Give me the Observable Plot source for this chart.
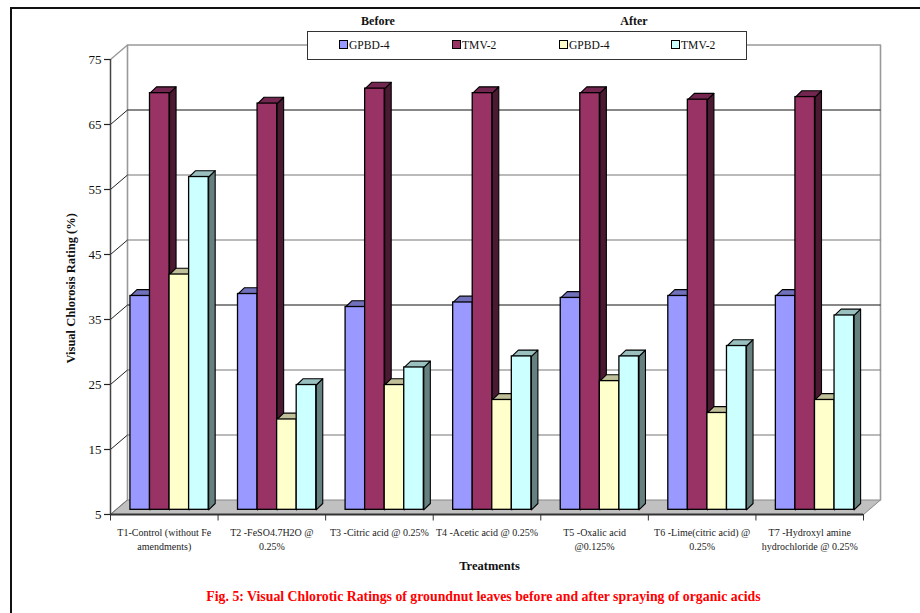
<!DOCTYPE html>
<html>
<head>
<meta charset="utf-8">
<script src="https://cdn.jsdelivr.net/npm/d3@7"></script>
<script src="https://cdn.jsdelivr.net/npm/@observablehq/plot@0.6"></script>
<style>
  html, body { margin: 0; background: #fff; }
  #page { position: relative; width: 920px; height: 613px; overflow: hidden; font-family: "Liberation Serif", serif; color: #111; }
  #page svg { position: absolute; left: 0; top: 0; }
  #frame { position: absolute; left: 10px; top: 6.5px; width: 920px; height: 620px; border-left: 2px solid #111; border-top: 2px solid #111; }
  .head { position: absolute; top: 14px; font-size: 12px; font-weight: bold; transform: translateX(-50%); }
  #legend { position: absolute; left: 307px; top: 31px; width: 438px; height: 27px; background: #fff; border: 1px solid #333; border-bottom-width: 1.5px; border-right-width: 1.5px; }
  .key { position: absolute; top: 7px; font-size: 11.6px; line-height: 14px; white-space: nowrap; }
  .key i { display: inline-block; width: 7px; height: 7px; border: 1px solid #000; margin-right: 1px; vertical-align: 0; }
  #caption { position: absolute; left: 0; top: 589px; width: 967px; text-align: center; font-size: 13.8px; font-weight: bold; color: #f00; }
</style>
</head>
<body>
<div id="page">
  <div id="frame"></div>
</div>
<script>
// Treatments along the horizontal axis
const treatments = [
  "T1-Control (without Fe\namendments)",
  "T2 -FeSO4.7H2O @\n0.25%",
  "T3 -Citric acid @ 0.25%",
  "T4 -Acetic acid @ 0.25%",
  "T5 -Oxalic acid\n@0.125%",
  "T6 -Lime(citric acid) @\n0.25%",
  "T7 -Hydroxyl amine\nhydrochloride @ 0.25%"
];

// Chlorosis ratings, one list per cultivar and sampling time
const gpbdBefore = [37.9, 38.2, 36.2, 36.9, 37.6, 37.9, 37.9];
const tmvBefore  = [69.1, 67.5, 69.8, 69.1, 69.1, 68.1, 68.5];
const gpbdAfter  = [41.2, 18.9, 24.2, 21.9, 24.8, 19.9, 21.9];
const tmvAfter   = [56.2, 24.2, 26.9, 28.6, 28.6, 30.2, 34.9];

const seriesNames = ["GPBD-4", "TMV-2", "GPBD-4", "TMV-2"];
const seriesValues = [gpbdBefore, tmvBefore, gpbdAfter, tmvAfter];
const frontColors = ["#9999ff", "#993366", "#ffffcc", "#ccffff"];
const topColors   = ["#7070bb", "#732650", "#bfbf99", "#99bfbf"];
const sideColors  = ["#4d4d80", "#4c1933", "#808066", "#668080"];

const yTicks = [5, 15, 25, 35, 45, 55, 65, 75];
const darkGrid = [35, 65];
const softGrid = [15, 25, 45, 55];

// Oblique projection, expressed in axis units
const wallDx = 0.158, wallDy = 2.23;     // offset of the back wall from the front plane
const barShiftX = 0.049, barShiftY = 0.72; // offset of a bar's front face from the front plane
const barDepthX = 0.0605, barDepthY = 0.97; // depth of one bar
const barWidth = 1 / 5.5, barGap = 0.75 / 5.5;

const slot = (i, s) => i + barGap + s * barWidth + barShiftX;
const base = 5 + barShiftY;

// Top and side faces of a bar as closed polygons
function bevels(values, s) {
  return values.flatMap((v, i) => {
    const x0 = slot(i, s), x1 = x0 + barWidth, top = v + barShiftY;
    const side = [[x1, base], [x1, top], [x1 + barDepthX, top + barDepthY], [x1 + barDepthX, base + barDepthY]];
    const lid = [[x0, top], [x1, top], [x1 + barDepthX, top + barDepthY], [x0 + barDepthX, top + barDepthY]];
    return [
      ...side.map(([x, y]) => ({x, y, id: `side${i}`, fill: sideColors[s]})),
      ...lid.map(([x, y]) => ({x, y, id: `top${i}`, fill: topColors[s]}))
    ];
  });
}

const barMarks = seriesValues.flatMap((values, s) => [
  Plot.line(bevels(values, s), {x: "x", y: "y", z: "id", fill: "fill", stroke: "#000", strokeWidth: 1.1, curve: "linear-closed"}),
  Plot.rect(values, {
    x1: (d, i) => slot(i, s),
    x2: (d, i) => slot(i, s) + barWidth,
    y1: () => base,
    y2: d => d + barShiftY,
    fill: frontColors[s],
    stroke: "#000",
    strokeWidth: 1.3
  })
]);

const floor = [
  {x: 0, y: 5}, {x: 7, y: 5}, {x: 7 + wallDx, y: 5 + wallDy}, {x: wallDx, y: 5 + wallDy}
];
const wall = [
  {x: wallDx, y: 5 + wallDy}, {x: wallDx, y: 75 + wallDy}, {x: 7 + wallDx, y: 75 + wallDy}, {x: 7 + wallDx, y: 5 + wallDy}
];
const wallGrid = (d) => ({x1: () => wallDx, x2: () => 7 + wallDx, y1: v => v + wallDy, y2: v => v + wallDy, ...d});
const sideGrid = (d) => ({x1: () => 0, x2: () => wallDx, y1: v => v, y2: v => v + wallDy, ...d});

const chart = Plot.plot({
  width: 920,
  height: 613,
  marginLeft: 110,
  marginRight: 57,
  marginTop: 59,
  marginBottom: 99,
  style: {background: "transparent", fontFamily: "Liberation Serif, serif", color: "#111"},
  x: {type: "linear", domain: [0, 7], range: [110, 863], axis: null},
  y: {type: "linear", domain: [5, 75], range: [514, 59], axis: null},
  color: {type: "identity"},
  marks: [
    // Floor and back wall
    Plot.line(floor, {x: "x", y: "y", fill: "#c0c0c0", stroke: "#888", strokeWidth: 1, curve: "linear-closed"}),
    Plot.line(wall, {x: "x", y: "y", stroke: "#999", strokeWidth: 1.6}),
    // Gridlines on the back wall, and their run along the left wall
    Plot.link(softGrid, wallGrid({stroke: "#777", strokeWidth: 1.2})),
    Plot.link(darkGrid, wallGrid({stroke: "#111", strokeWidth: 1})),
    Plot.link(yTicks.slice(1, -1), sideGrid({stroke: "#222", strokeWidth: 1})),
    Plot.link([75], sideGrid({stroke: "#999", strokeWidth: 1.4})),
    Plot.link([5], sideGrid({stroke: "#777", strokeWidth: 1})),
    ...barMarks,
    // Front axes
    Plot.ruleX([0], {x: d => d, y1: () => 5, y2: () => 75, stroke: "#444", strokeWidth: 1.5}),
    Plot.ruleY([5], {y: d => d, x1: () => 0, x2: () => 7, stroke: "#333", strokeWidth: 1.8}),
    Plot.axisY({ticks: yTicks, tickSize: 6, tickPadding: 3, tickFormat: d => d, fontSize: 13, stroke: "#222", strokeWidth: 1.2, label: null}),
    Plot.ruleX(d3.range(8), {x: d => d, y1: () => 5, y2: () => 4, stroke: "#333", strokeWidth: 1}),
    Plot.text(treatments, {
      x: (d, i) => i + 0.5,
      y: () => 5,
      dy: 12,
      text: d => d,
      lineAnchor: "top",
      fontSize: 10,
      lineHeight: 1.4,
      fill: "#222"
    }),
    // Axis titles
    Plot.text(["Treatments"], {x: () => 3.5, y: () => 5, dy: 51, dx: 2.5, text: d => d, fontSize: 12.5, fontWeight: "bold", fill: "#111"}),
    Plot.text(["Visual Chlorosis Rating (%)"], {
      x: () => 0, y: () => 39.8, dx: -40, text: d => d, rotate: -90, fontSize: 12.5, fontWeight: "bold", fill: "#111", letterSpacing: "1.15px"
    })
  ]
});

const page = document.getElementById("page");
page.appendChild(chart);

// Timing headers above the key
[["Before", 378], ["After", 634]].forEach(([label, x]) => {
  const el = document.createElement("div");
  el.className = "head";
  el.style.left = x + "px";
  el.textContent = label;
  page.appendChild(el);
});

// Key, laid over the top of the chart
const legend = document.createElement("div");
legend.id = "legend";
[31, 144, 251, 363].forEach((left, s) => {
  const key = document.createElement("div");
  key.className = "key";
  key.style.left = left + "px";
  const swatch = document.createElement("i");
  swatch.style.background = frontColors[s];
  key.append(swatch, seriesNames[s]);
  legend.appendChild(key);
});
page.appendChild(legend);

const caption = document.createElement("div");
caption.id = "caption";
caption.textContent = "Fig. 5: Visual Chlorotic Ratings of groundnut leaves before and after spraying of organic acids";
page.appendChild(caption);
</script>
</body>
</html>
